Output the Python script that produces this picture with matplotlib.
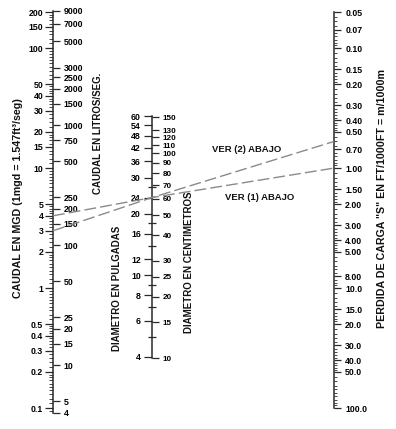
import matplotlib
matplotlib.use("Agg")
import matplotlib.pyplot as plt
import numpy as np
from matplotlib.lines import Line2D
from matplotlib.ticker import FixedLocator, LogLocator, NullLocator, NullFormatter

plt.rcParams['font.family'] = ['Liberation Sans', 'DejaVu Sans']
plt.rcParams['font.weight'] = 'bold'

# ---------------- data ----------------
mgd_ticks = [200, 150, 100, 50, 40, 30, 20, 15, 10, 5, 4, 3, 2, 1, 0.5, 0.4, 0.3, 0.2, 0.1]
mgd_labels = ['200', '150', '100', '50', '40', '30', '20', '15', '10', '5', '4', '3', '2', '1',
              '0.5', '0.4', '0.3', '0.2', '0.1']
lps_ticks = [9000, 7000, 5000, 3000, 2500, 2000, 1500, 1000, 750, 500, 250, 200, 150, 100,
             50, 25, 20, 15, 10, 5, 4]
inch_ticks = [60, 54, 48, 42, 36, 30, 24, 20, 16, 12, 10, 8, 6, 4]
inch_minor = [27, 18, 14, 9, 7, 5]
cm_ticks = [150, 130, 120, 110, 100, 90, 80, 70, 60, 50, 40, 30, 25, 20, 15, 10]
s_ticks = [0.05, 0.07, 0.10, 0.15, 0.20, 0.30, 0.40, 0.50, 0.70, 1.00, 1.50, 2.00, 3.00,
           4.00, 5.00, 8.00, 10.0, 15.0, 20.0, 30.0, 40.0, 50.0, 100.0]
s_labels = ['0.05', '0.07', '0.10', '0.15', '0.20', '0.30', '0.40', '0.50', '0.70', '1.00',
            '1.50', '2.00', '3.00', '4.00', '5.00', '8.00', '10.0', '15.0', '20.0', '30.0',
            '40.0', '50.0', '100.0']
MGD_TO_LPS = 43.81
IN_TO_CM = 2.54
# example lines: (flow MGD, diameter in, head loss S)
line_1 = (4.0, 24, 1.0)
line_2 = (3.0, 24, 0.6)

# ---------------- layout ----------------
W, H = 396, 429
fig = plt.figure(figsize=(W / 100, H / 100), dpi=100)

INK = '#2a2a2a'
LAB = 6.3
minor_subs = np.concatenate([np.arange(1, 2, 0.1), np.arange(2, 5, 0.2), np.arange(5, 10, 0.5)])


def log_axes(x, v1, p1, v2, p2, lo, hi):
    """Vertical log axis at pixel x; value v1 at pixel p1, v2 at p2; limits lo (bottom), hi (top)."""
    k = (p2 - p1) / (np.log10(v2) - np.log10(v1))
    ypx = lambda v: p1 + (np.log10(v) - np.log10(v1)) * k
    top, bot = ypx(hi), ypx(lo)
    ax = fig.add_axes([x / W, 1 - bot / H, 0.0001, (bot - top) / H])
    ax.set_yscale('log')
    ax.set_ylim(lo, hi)
    ax.set_xticks([])
    ax.patch.set_visible(False)
    for s in ['top', 'bottom', 'right', 'left']:
        ax.spines[s].set_visible(False)
    return ax


def style_spine(ax, side):
    ax.spines[side].set_visible(True)
    ax.spines[side].set_color(INK)
    ax.spines[side].set_linewidth(1.1)


# Left: flow scale
ax1 = log_axes(53, 200, 12, 0.1, 408, 4 / MGD_TO_LPS, 9000 / MGD_TO_LPS)
style_spine(ax1, 'left')
ax1.set_yticks(mgd_ticks, labels=mgd_labels)
ax1.yaxis.set_minor_locator(LogLocator(subs=minor_subs, numticks=50))
ax1.yaxis.set_minor_formatter(NullFormatter())
ax1.tick_params(axis='y', which='major', direction='out', length=5.5, width=0.9,
                color=INK, pad=1.5, labelsize=LAB)
ax1.tick_params(axis='y', which='minor', direction='out', length=2.8, width=0.6, color=INK)
sec1 = ax1.secondary_yaxis('right', functions=(lambda q: q * MGD_TO_LPS, lambda l: l / MGD_TO_LPS))
sec1.set_yticks(lps_ticks, labels=[str(v) for v in lps_ticks])
sec1.yaxis.set_minor_locator(NullLocator())
sec1.spines['right'].set_visible(False)
sec1.tick_params(axis='y', which='major', direction='out', length=5.0, width=0.9,
                 color=INK, pad=2.5, labelsize=LAB)

# Middle: diameter scale
ax2 = log_axes(152, 60, 116, 4, 357, 10 / IN_TO_CM, 60)
style_spine(ax2, 'left')
ax2.set_yticks(inch_ticks, labels=[str(v) for v in inch_ticks])
ax2.yaxis.set_minor_locator(FixedLocator(inch_minor))
ax2.yaxis.set_minor_formatter(NullFormatter())
ax2.tick_params(axis='y', which='major', direction='out', length=5.5, width=0.9,
                color=INK, pad=2.5, labelsize=LAB)
ax2.tick_params(axis='y', which='minor', direction='inout', length=5.5, width=0.9, color=INK)
sec2 = ax2.secondary_yaxis('right', functions=(lambda d: d * IN_TO_CM, lambda c: c / IN_TO_CM))
sec2.set_yticks(cm_ticks, labels=[str(v) for v in cm_ticks])
sec2.yaxis.set_minor_locator(NullLocator())
sec2.spines['right'].set_visible(False)
sec2.tick_params(axis='y', which='major', direction='out', length=5.0, width=0.9,
                 color=INK, pad=2.5, labelsize=5.9)

# Right: head loss scale
ax3 = log_axes(334, 0.05, 12, 100, 408, 100, 0.05)
style_spine(ax3, 'left')
ax3.yaxis.tick_right()
ax3.set_yticks(s_ticks, labels=s_labels)
ax3.yaxis.set_minor_locator(LogLocator(subs=minor_subs, numticks=50))
ax3.yaxis.set_minor_formatter(NullFormatter())
ax3.tick_params(axis='y', which='major', direction='out', length=5.0, width=0.9,
                color=INK, pad=3.0, labelsize=LAB)
ax3.tick_params(axis='y', which='minor', direction='out', length=2.5, width=0.6, color=INK)

# ---------------- dashed example lines ----------------
to_fig = fig.transFigure.inverted()


def pt(ax, v):
    return to_fig.transform(ax.get_yaxis_transform().transform((0, v)))


for (q, d, s) in (line_1, line_2):
    pts = np.array([pt(ax1, q), pt(ax2, d), pt(ax3, s)])
    ln = Line2D(pts[:, 0], pts[:, 1], transform=fig.transFigure, color='#8a8a8a',
                lw=1.0, dashes=(8.5, 3.0))
    fig.add_artist(ln)

# ---------------- texts ----------------
def ftext(x, y, s, size=7.0, rot=90):
    fig.text(x / W, 1 - y / H, s, rotation=rot, ha='center', va='center',
             fontsize=size, fontweight='bold', color='#111111')

ftext(18, 198, 'CAUDAL EN MGD (1mgd = 1.547ft³/seg)', size=7.7)
ftext(98, 133, 'CAUDAL EN LITROS/SEG.')
ftext(117, 288, 'DIAMETRO EN PULGADAS')
ftext(189, 262, 'DIAMETRO EN CENTIMETROS')
ftext(382, 199, 'PERDIDA DE CARGA "S" EN FT/1000FT = m/1000m', size=7.7)
ftext(247, 150, 'VER (2) ABAJO', size=6.8, rot=0)
ftext(260, 197, 'VER (1) ABAJO', size=6.8, rot=0)

fig.savefig('out.png', dpi=100)
